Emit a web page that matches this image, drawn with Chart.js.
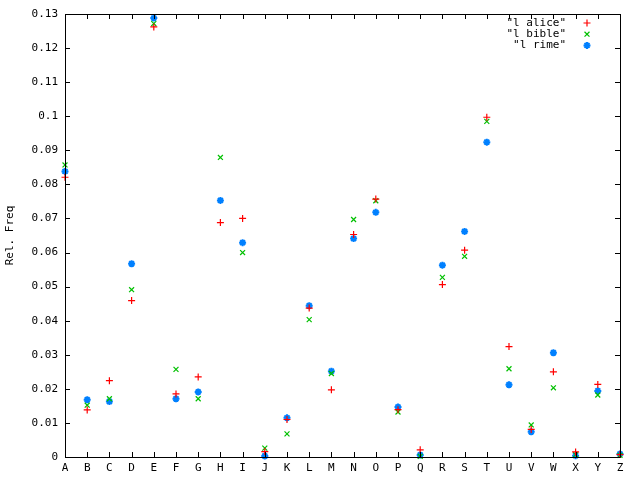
<!DOCTYPE html>
<html>
<head>
<meta charset="utf-8">
<title>Letter frequencies</title>
<script src="https://cdn.jsdelivr.net/npm/chart.js@4/dist/chart.umd.min.js"></script>
<style>
  html, body { margin: 0; padding: 0; background: #fff; }
  #wrap { width: 640px; height: 480px; }
</style>
</head>
<body>
<div id="wrap"><canvas id="chart"></canvas></div>
<script>
// ── Data ──
const letters = ['A','B','C','D','E','F','G','H','I','J','K','L','M','N','O','P','Q','R','S','T','U','V','W','X','Y','Z'];

const alice = [0.0821, 0.0138, 0.0224, 0.0459, 0.1262, 0.0185, 0.0235, 0.0688, 0.0700, 0.0016, 0.0110, 0.0437, 0.0197,
               0.0653, 0.0757, 0.0139, 0.0021, 0.0506, 0.0607, 0.0997, 0.0324, 0.0081, 0.0250, 0.0015, 0.0213, 0.0007];
const bible = [0.0857, 0.0152, 0.0171, 0.0491, 0.1272, 0.0257, 0.0171, 0.0879, 0.0600, 0.0026, 0.0068, 0.0403, 0.0245,
               0.0697, 0.0752, 0.0132, 0.0002, 0.0527, 0.0589, 0.0985, 0.0259, 0.0094, 0.0203, 0.0007, 0.0182, 0.0005];
const rime  = [0.0838, 0.0168, 0.0163, 0.0567, 0.1288, 0.0171, 0.0191, 0.0753, 0.0629, 0.0003, 0.0115, 0.0444, 0.0252,
               0.0641, 0.0718, 0.0147, 0.0006, 0.0563, 0.0662, 0.0924, 0.0212, 0.0074, 0.0306, 0.0004, 0.0194, 0.0009];

const seriesLabels = ['"l alice"', '"l bible"', '"l rime"'];

const FONT = '"DejaVu Sans Mono", "Liberation Mono", monospace';

// ── gnuplot-style frame: border + inward ticks on all four sides, key top right ──
const framePlugin = {
  id: 'frame',
  afterDraw(chart) {
    const ctx = chart.ctx, a = chart.chartArea;
    const xs = chart.scales.x, ys = chart.scales.y;
    const len = 5;
    ctx.save();
    ctx.strokeStyle = '#000';
    ctx.lineWidth = 1;
    ctx.beginPath();
    ctx.rect(Math.round(a.left) + 0.5, Math.round(a.top) + 0.5,
             Math.round(a.right - a.left), Math.round(a.bottom - a.top));
    ys.ticks.forEach(function(t) {
      const y = Math.round(ys.getPixelForValue(t.value)) + 0.5;
      ctx.moveTo(a.left, y); ctx.lineTo(a.left + len, y);
      ctx.moveTo(a.right, y); ctx.lineTo(a.right - len, y);
    });
    letters.forEach(function(l, i) {
      const x = Math.round(xs.getPixelForValue(i)) + 0.5;
      ctx.moveTo(x, a.bottom); ctx.lineTo(x, a.bottom - len);
      ctx.moveTo(x, a.top); ctx.lineTo(x, a.top + len);
    });
    ctx.stroke();

    ctx.font = '11px ' + FONT;
    ctx.textAlign = 'right';
    ctx.textBaseline = 'middle';
    chart.data.datasets.forEach(function(ds, i) {
      const y = 23 + i * 11.2;
      ctx.fillStyle = '#000';
      ctx.fillText(ds.label, 566, y);
      ctx.strokeStyle = ds.borderColor;
      ctx.fillStyle = ds.backgroundColor;
      ctx.lineWidth = ds.pointBorderWidth;
      Chart.helpers.drawPoint(ctx, { pointStyle: ds.pointStyle, radius: ds.pointRadius, borderWidth: ds.pointBorderWidth }, 587, y);
    });
    ctx.restore();
  }
};

function series(label, data, color, style, bw) {
  return {
    label: label,
    data: data,
    showLine: false,
    borderColor: color,
    backgroundColor: color,
    pointStyle: style,
    pointRadius: 3.5,
    pointHoverRadius: 3.5,
    pointBorderWidth: bw,
    clip: false
  };
}

new Chart(document.getElementById('chart'), {
  type: 'line',
  data: {
    labels: letters,
    datasets: [
      series(seriesLabels[0], alice, '#ff0000', 'cross', 1.2),
      series(seriesLabels[1], bible, '#00c000', 'crossRot', 1.2),
      series(seriesLabels[2], rime, '#0080ff', 'star', 2)
    ]
  },
  options: {
    responsive: true, maintainAspectRatio: false,
    animation: false,
    layout: { padding: { left: 0, top: 14, right: 20, bottom: 0 } },
    plugins: { legend: { display: false }, tooltip: { enabled: false } },
    scales: {
      x: {
        type: 'category',
        offset: false,
        grid: { display: false, drawTicks: false },
        border: { display: false },
        ticks: { color: '#000', padding: 5, autoSkip: false, maxRotation: 0, font: { family: FONT, size: 11 } },
        afterFit: function(s) { s.height = 23; }
      },
      y: {
        min: 0, max: 0.13,
        grid: { display: false, drawTicks: false },
        border: { display: false },
        ticks: {
          stepSize: 0.01, color: '#000', padding: 7,
          font: { family: FONT, size: 11 },
          callback: function(v) { return String(+v.toFixed(2)); }
        },
        title: { display: true, text: 'Rel. Freq', color: '#000', padding: { top: 4, bottom: 0 }, font: { family: FONT, size: 11 } },
        afterFit: function(s) { s.width = 65; }
      }
    }
  },
  plugins: [framePlugin]
});
</script>
</body>
</html>
